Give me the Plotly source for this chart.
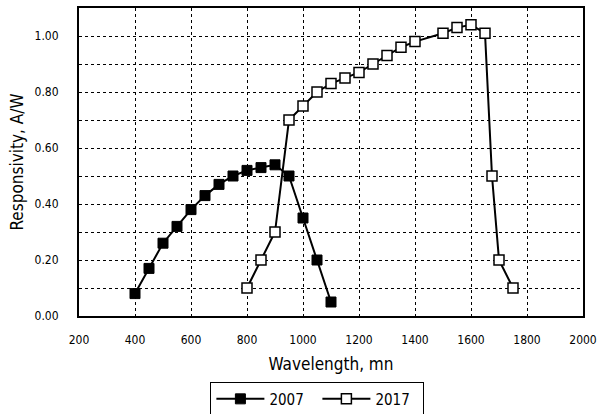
import plotly.graph_objects as go

x_2007 = [400, 450, 500, 550, 600, 650, 700, 750, 800, 850, 900, 950, 1000, 1050, 1100]
y_2007 = [0.08, 0.17, 0.26, 0.32, 0.38, 0.43, 0.47, 0.50, 0.52, 0.53, 0.54, 0.50, 0.35, 0.20, 0.05]

x_2017 = [800, 850, 900, 950, 1000, 1050, 1100, 1150, 1200, 1250, 1300, 1350, 1400,
          1500, 1550, 1600, 1650, 1675, 1700, 1750]
y_2017 = [0.10, 0.20, 0.30, 0.70, 0.75, 0.80, 0.83, 0.85, 0.87, 0.90, 0.93, 0.96, 0.98,
          1.01, 1.03, 1.04, 1.01, 0.50, 0.20, 0.10]

y_tickvals = [0.0, 0.1, 0.2, 0.3, 0.4, 0.5, 0.6, 0.7, 0.8, 0.9, 1.0]
y_ticktext = ["0.00", "", "0.20", "", "0.40", "", "0.60", "", "0.80", "", "1.00"]
x_tickvals = [200, 400, 600, 800, 1000, 1200, 1400, 1600, 1800, 2000]

FONT = "DejaVu Sans Condensed, Roboto, sans-serif"

fig = go.Figure()
fig.add_trace(go.Scatter(
    x=x_2007, y=y_2007, name="2007", mode="lines+markers",
    line=dict(color="black", width=2),
    marker=dict(symbol="square", size=10, color="black", line=dict(color="black", width=1)),
))
fig.add_trace(go.Scatter(
    x=x_2017, y=y_2017, name="2017", mode="lines+markers",
    line=dict(color="black", width=2),
    marker=dict(symbol="square", size=10, color="white", line=dict(color="black", width=1.5)),
))

fig.update_layout(
    width=597, height=414,
    margin=dict(l=79, r=14, t=8, b=98, autoexpand=False),
    paper_bgcolor="white", plot_bgcolor="white",
    font=dict(family=FONT, color="black"),
    showlegend=True,
    legend=dict(
        orientation="h", x=0.473, xanchor="center", y=-0.213, yanchor="top",
        bordercolor="black", borderwidth=1, bgcolor="white",
        font=dict(size=15, family=FONT),
        itemwidth=48, entrywidth=43,
    ),
)
fig.update_xaxes(
    range=[200, 2000], tickvals=x_tickvals,
    showline=True, linecolor="black", linewidth=2, mirror=True,
    showgrid=True, gridcolor="black", griddash="dot", gridwidth=1,
    ticks="", tickfont=dict(size=12, family=FONT),
    ticklabelstandoff=12,
    zeroline=False,
    title=dict(text="Wavelength, mn", font=dict(size=17, family=FONT), standoff=12),
)
fig.update_yaxes(
    range=[0, 1.1], tickvals=y_tickvals, ticktext=y_ticktext,
    showline=True, linecolor="black", linewidth=2, mirror=True,
    showgrid=True, gridcolor="black", griddash="dot", gridwidth=1,
    ticks="", tickfont=dict(size=12, family=FONT),
    ticklabelstandoff=16,
    zeroline=False,
    title=dict(text="Responsivity, A/W", font=dict(size=17, family=FONT), standoff=7),
)

fig.write_html("out.html", config={"displayModeBar": False},
               post_script="document.body.style.margin='0';document.body.style.padding='0';")
